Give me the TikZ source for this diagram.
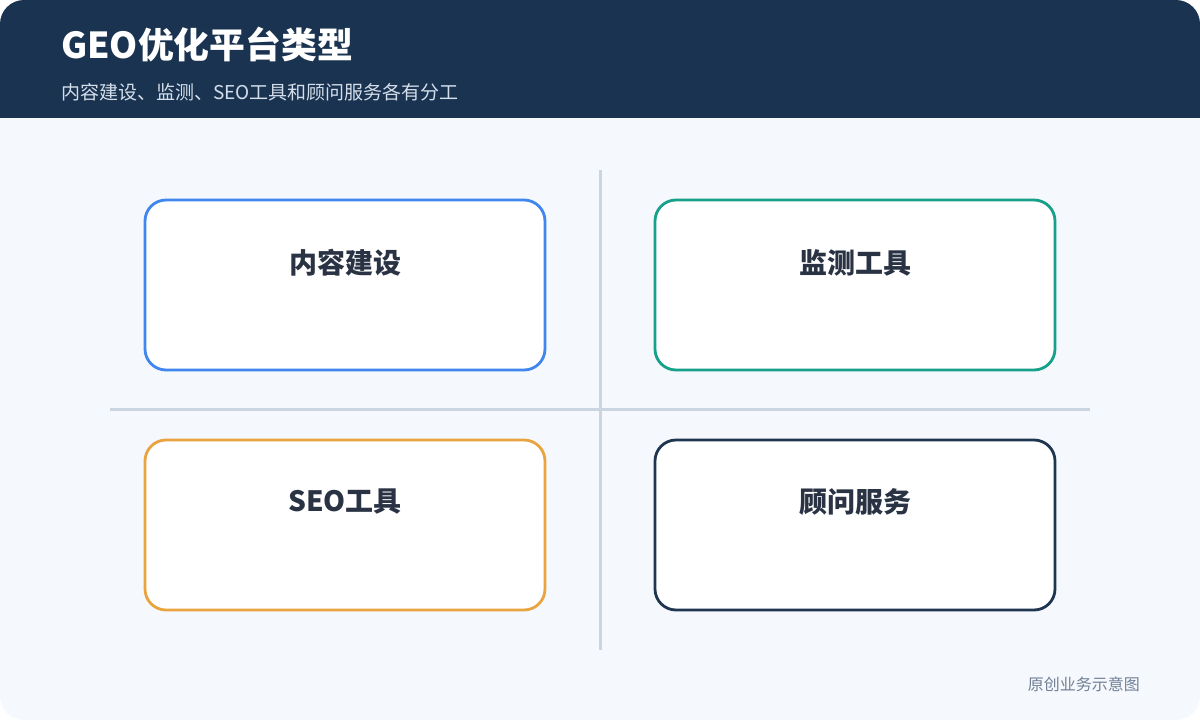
\documentclass[tikz,border=0pt]{standalone}
\usepackage{fontspec}
\setmainfont{Noto Sans CJK SC}
\definecolor{navy}{HTML}{1A3350}
\definecolor{bgc}{HTML}{F5F8FC}
\definecolor{subc}{HTML}{D5DFEC}
\definecolor{gridc}{HTML}{CBD5E1}
\definecolor{bluec}{HTML}{3F86EE}
\definecolor{tealc}{HTML}{17A08A}
\definecolor{orangec}{HTML}{E9A440}
\definecolor{darkc}{HTML}{1F3550}
\definecolor{labelc}{HTML}{2A3344}
\definecolor{footc}{HTML}{718096}
\tikzset{
  card/.style={draw=#1, line width=2.8pt, fill=white, rounded corners=21pt, minimum width=400pt, minimum height=170pt, inner sep=0pt},
  cardlabel/.style={text=labelc, font=\bfseries\fontsize{28pt}{32pt}\selectfont, anchor=center, inner sep=0pt},
  gridline/.style={draw=gridc, line width=3pt},
}
\begin{document}
\begin{tikzpicture}[x=1pt,y=-1pt]
\useasboundingbox (0,0) rectangle (1200,720);
\fill[white] (0,0) rectangle (1200,720);
\fill[bgc, rounded corners=24pt] (0,0) rectangle (1200,720);
\fill[navy, rounded corners=24pt] (0,0) rectangle (1200,150);
\fill[navy] (0,60) rectangle (1200,118);
\fill[bgc] (0,118) rectangle (1200,160);
\node[anchor=base west, text=white, font=\bfseries\fontsize{35.8pt}{40pt}\selectfont, inner sep=0pt] (title) at (61,58) {GEO优化平台类型};
\node[anchor=base west, text=subc, font=\fontsize{19pt}{22pt}\selectfont, inner sep=0pt] (subtitle) at (61,99) {内容建设、监测、SEO工具和顾问服务各有分工};
\coordinate (vt) at (600,170);
\coordinate (vb) at (600,650);
\coordinate (hl) at (110,409);
\coordinate (hr) at (1090,409);
\draw[gridline] (vt) -- (vb);
\draw[gridline] (hl) -- (hr);
\node[card=bluec] (c1) at (345,285) {};
\node[card=tealc] (c2) at (855,285) {};
\node[card=orangec] (c3) at (345,525) {};
\node[card=darkc] (c4) at (855,525) {};
\node[cardlabel] (l1) at (345,263) {内容建设};
\node[cardlabel] (l2) at (855,263) {监测工具};
\node[cardlabel] (l3) at (345,502) {SEO工具};
\node[cardlabel] (l4) at (855,502) {顾问服务};
\node[anchor=base east, text=footc, font=\fontsize{16pt}{19pt}\selectfont, inner sep=0pt] (foot) at (1140,690) {原创业务示意图};
\end{tikzpicture}
\end{document}
